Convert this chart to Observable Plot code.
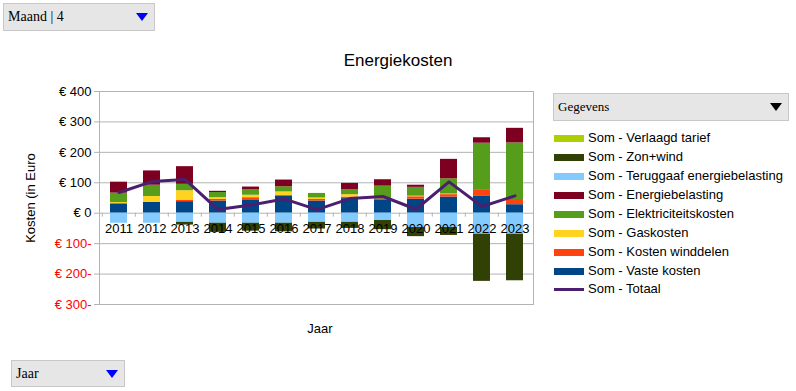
<!DOCTYPE html>
<html>
<head>
<meta charset="utf-8">
<script src="https://cdn.jsdelivr.net/npm/d3@7"></script>
<script src="https://cdn.jsdelivr.net/npm/@observablehq/plot@0.6"></script>
<style>
  html, body { margin: 0; padding: 0; background: #fff; }
  #root { position: relative; width: 796px; height: 391px; overflow: hidden; font-family: "Liberation Sans", Arial, sans-serif; }
  .abs { position: absolute; }
  .dd { position: absolute; background: #e6e6e6; border: 1px solid #c8c8c8; box-sizing: border-box;
        font-family: "Liberation Serif", "Times New Roman", serif; font-size: 13px; color: #000; }
  .dd span.lbl { position: absolute; left: 4px; top: 50%; transform: translateY(-50%); }
  .dd svg { position: absolute; top: 50%; transform: translateY(-50%); }
  .leg { position: absolute; left: 554px; font-size: 13px; white-space: nowrap; }
  .leg .sw { position: absolute; left: 0; width: 30px; }
  .leg .tx { position: absolute; left: 34px; top: 0; line-height: 1; }
</style>
</head>
<body>
<div id="root"></div>
<script>
// ---- data ----
const years = [2011, 2012, 2013, 2014, 2015, 2016, 2017, 2018, 2019, 2020, 2021, 2022, 2023];
const vasteKosten      = [31, 36, 38, 40, 44, 55, 40, 48, 44, 46, 53, 57, 28];
const kostenWinddelen  = [0, 0, 5, 5, 7, 3, 5, 5, 3, 8, 8, 18, 17];
const gasKosten        = [4, 19, 31, 6, 8, 12, 5, 8, 0, 2, 2, 0, 0];
const elektriciteit    = [31, 37, 21, 17, 19, 17, 15, 17, 42, 29, 50, 155, 186];
const energiebelasting = [36, 47, 58, 4, 8, 22, 0, 20, 21, 7, 64, 18, 48];
const teruggaaf        = [-33, -33, -30, -33, -33, -33, -30, -30, -24, -47, -47, -69, -69];
const zonWind          = [0, 0, -9, -30, -26, -28, -22, -20, -30, -30, -26, -155, -153];
const verlaagdTarief   = [0, 0, 0, 0, 0, 0, 0, 0, 0, 0, 0, 0, 0];
const totaal           = [68, 104, 111, 12, 27, 47, 12, 48, 55, 13, 103, 22, 57];

const yTicks = [-300, -200, -100, 0, 100, 200, 300, 400];

// stack order bottom -> top
const seriesNames = [
  "Som - Vaste kosten",
  "Som - Kosten winddelen",
  "Som - Gaskosten",
  "Som - Elektriciteitskosten",
  "Som - Energiebelasting",
  "Som - Teruggaaf energiebelasting",
  "Som - Zon+wind",
  "Som - Verlaagd tarief"
];
const seriesValues = [vasteKosten, kostenWinddelen, gasKosten, elektriciteit, energiebelasting, teruggaaf, zonWind, verlaagdTarief];
const seriesColors = ["#004586", "#ff420e", "#ffd320", "#579d1c", "#7e0021", "#83caff", "#314004", "#aecf00"];
const totalName = "Som - Totaal";
const totalColor = "#4b1f6f";

const rows = [];
seriesNames.forEach((s, si) => years.forEach((y, i) => rows.push({year: y, series: s, value: seriesValues[si][i]})));
const totalRows = years.map((y, i) => ({year: y, value: totaal[i]}));

const fmt = d => d < 0 ? "€ " + Math.abs(d) + "-" : "€ " + d;
const grid = "#b3b3b3";

const chart = Plot.plot({
  width: 540,
  height: 340,
  marginLeft: 99,
  marginRight: 7,
  marginTop: 91,
  marginBottom: 36,
  style: {fontFamily: "Liberation Sans, Arial, sans-serif", background: "transparent"},
  x: {type: "band", domain: years, paddingInner: 0.5, paddingOuter: 0.25, axis: null},
  y: {domain: [-300, 400], axis: null},
  color: {domain: seriesNames, range: seriesColors},
  marks: [
    Plot.ruleY(yTicks, {y: d => d, stroke: grid, strokeWidth: 1}),
    Plot.frame({stroke: grid}),
    Plot.axisY({ticks: yTicks, tickSize: 5, tickFormat: () => "", stroke: grid, label: null}),
    Plot.barY(rows, {x: "year", y: "value", fill: "series", order: seriesNames}),
    Plot.ruleX(years, {x: d => d, y1: 0, y2: -13, dx: -16.7, stroke: grid}),
    Plot.line(totalRows, {x: "year", y: "value", stroke: totalColor, strokeWidth: 3}),
    Plot.text(years, {x: d => d, y: 0, dy: 16, text: d => String(d), fontSize: 13, fill: "#000"}),
    Plot.text(yTicks.filter(d => d >= 0), {y: d => d, text: fmt, frameAnchor: "left", textAnchor: "end", dx: -8, fontSize: 13, fill: "#000"}),
    Plot.text(yTicks.filter(d => d < 0), {y: d => d, text: fmt, frameAnchor: "left", textAnchor: "end", dx: -8, fontSize: 13, fill: "#ff0000"})
  ]
});

const root = document.getElementById("root");
chart.style.position = "absolute";
chart.style.left = "0px";
chart.style.top = "0px";
root.appendChild(chart);

function dropdown(label, x, y, w, h, triColor, size) {
  const d = document.createElement("div");
  d.className = "dd";
  Object.assign(d.style, {left: x + "px", top: y + "px", width: w + "px", height: h + "px", fontSize: size + "px"});
  d.innerHTML = `<span class="lbl">${label}</span><svg width="12" height="8" style="right:6px"><path d="M0,0L12,0L6,8Z" fill="${triColor}"/></svg>`;
  root.appendChild(d);
}
dropdown("Maand | 4", 3, 3, 152, 28, "#0000ff", 14);
dropdown("Gegevens", 553, 93, 236, 28, "#000000", 13);
dropdown("Jaar", 11, 360, 114, 27, "#0000ff", 14);

function text(str, x, y, size, extra) {
  const t = document.createElement("div");
  t.className = "abs";
  t.textContent = str;
  Object.assign(t.style, {left: x + "px", top: y + "px", fontSize: size + "px", whiteSpace: "nowrap", transform: "translate(-50%,-50%)"}, extra || {});
  root.appendChild(t);
}
text("Energiekosten", 398, 61, 17);
text("Jaar", 320, 328, 13);
text("Kosten (in Euro", 30, 198, 13, {transform: "translate(-50%,-50%) rotate(-90deg)"});

// legend (top to bottom)
const legendOrder = seriesNames.slice().reverse();
const legendColors = seriesColors.slice().reverse();
legendOrder.forEach((s, i) => {
  const e = document.createElement("div");
  e.className = "leg";
  e.style.top = (131 + i * 19) + "px";
  e.innerHTML = `<div class="sw" style="top:4px;height:7px;background:${legendColors[i]}"></div><div class="tx">${s}</div>`;
  root.appendChild(e);
});
{
  const e = document.createElement("div");
  e.className = "leg";
  e.style.top = (131 + 8 * 19 - 1) + "px";
  e.innerHTML = `<div class="sw" style="top:6px;height:3px;background:${totalColor}"></div><div class="tx">${totalName}</div>`;
  root.appendChild(e);
}
</script>
</body>
</html>
